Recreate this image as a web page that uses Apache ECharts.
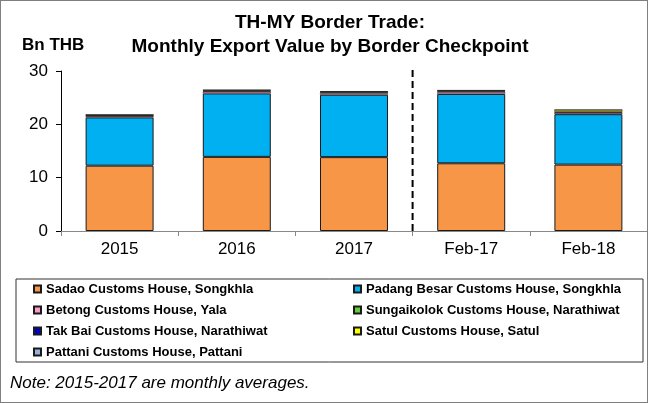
<!DOCTYPE html>
<html>
<head>
<meta charset="utf-8">
<script src="https://cdn.jsdelivr.net/npm/echarts@6/dist/echarts.min.js"></script>
<style>
  body { margin: 0; background: #fff; }
  #chart { width: 648px; height: 403px; }
  #frame { position: absolute; left: 0; top: 0; width: 646px; height: 401px; border: 1px solid #7f7f7f; pointer-events: none; }
</style>
</head>
<body>
<div id="chart"></div>
<div id="frame"></div>
<script>
const categories = ['2015', '2016', '2017', 'Feb-17', 'Feb-18'];
const sadao = [12.25, 13.9, 13.85, 12.7, 12.45];
const padangBesar = [9.05, 11.9, 11.7, 13.0, 9.45];
const betong = [0.2, 0.3, 0.3, 0.35, 0.25];
const sungaikolok = [0.1, 0.12, 0.12, 0.12, 0.1];
const takBai = [0.1, 0.1, 0.1, 0.1, 0.1];
const satul = [0.08, 0.1, 0.08, 0.08, 0.35];
const pattani = [0.02, 0.02, 0.02, 0.02, 0.02];
const yTicks = [0, 10, 20, 30];
// dashed divider between yearly averages and monthly figures
const dividerAt = 3;
const dividerTop = 30.6;

const chart = echarts.init(document.getElementById('chart'));

function barSeries(name, data, color, bw) {
  return {
    name: name,
    type: 'bar',
    stack: 'total',
    barCategoryGap: '42%',
    itemStyle: { color: color, borderColor: '#1a1a1a', borderWidth: bw },
    data: data
  };
}

const colWide = { width: 300 };
const colNarrow = { width: 270 };

chart.setOption({
  animation: false,
  textStyle: { fontFamily: 'Liberation Sans, Arial, sans-serif', color: '#000' },
  title: [
    {
      text: 'TH-MY Border Trade:\nMonthly Export Value by Border Checkpoint',
      left: 330, top: 11, textAlign: 'center', padding: 0,
      textStyle: { fontSize: 19, fontWeight: 'bold', lineHeight: 24, color: '#000' }
    },
    {
      text: 'Bn THB', left: 22, top: 37, padding: 0,
      textStyle: { fontSize: 17, fontWeight: 'bold', color: '#000' }
    },
    {
      text: 'Note: 2015-2017 are monthly averages.', left: 10, top: 375, padding: 0,
      textStyle: { fontSize: 17, fontStyle: 'italic', fontWeight: 'normal', color: '#000' }
    }
  ],
  legend: {
    left: 16, top: 279, width: 610,
    padding: [3, 7, 3, 17],
    itemGap: 7, itemWidth: 7, itemHeight: 7,
    icon: 'rect',
    borderColor: '#333', borderWidth: 1,
    textStyle: { fontSize: 13, fontWeight: 'bold', color: '#000', lineHeight: 14 },
    data: [
      { name: 'Sadao Customs House, Songkhla', textStyle: colWide },
      { name: 'Padang Besar Customs House, Songkhla', textStyle: colNarrow },
      { name: 'Betong Customs House, Yala', textStyle: colWide },
      { name: 'Sungaikolok Customs House, Narathiwat', textStyle: colNarrow },
      { name: 'Tak Bai Customs House, Narathiwat', textStyle: colWide },
      { name: 'Satul Customs House, Satul', textStyle: colNarrow },
      { name: 'Pattani Customs House, Pattani', textStyle: colWide }
    ]
  },
  grid: { left: 61, right: 1, top: 71, bottom: 172 },
  xAxis: [
    {
      type: 'category',
      data: categories,
      axisLine: { lineStyle: { color: '#888', width: 1 } },
      axisTick: { show: true, length: 5, lineStyle: { color: '#888' } },
      axisLabel: { fontSize: 17, color: '#000', margin: 10 }
    },
    { type: 'value', min: 0, max: categories.length, show: false }
  ],
  yAxis: {
    type: 'value',
    min: yTicks[0], max: yTicks[yTicks.length - 1], interval: 10,
    axisLine: { show: true, lineStyle: { color: '#000', width: 1 } },
    axisTick: { show: true, length: 5, lineStyle: { color: '#000' } },
    axisLabel: { fontSize: 17, color: '#000', margin: 13 },
    splitLine: { show: false }
  },
  series: [
    barSeries('Sadao Customs House, Songkhla', sadao, '#F79646', 1),
    barSeries('Padang Besar Customs House, Songkhla', padangBesar, '#00B0F0', 1),
    barSeries('Betong Customs House, Yala', betong, '#FF99CC', 0.5),
    barSeries('Sungaikolok Customs House, Narathiwat', sungaikolok, '#66CC33', 0.5),
    barSeries('Tak Bai Customs House, Narathiwat', takBai, '#0000CC', 0.5),
    barSeries('Satul Customs House, Satul', satul, '#FFFF00', 0.5),
    barSeries('Pattani Customs House, Pattani', pattani, '#95B3D7', 0.5),
    {
      type: 'line',
      xAxisIndex: 1,
      clip: false,
      symbol: 'none',
      silent: true,
      lineStyle: { color: '#000', width: 2, type: [7, 4] },
      data: [[dividerAt, 0], [dividerAt, dividerTop]]
    }
  ]
});
</script>
</body>
</html>
